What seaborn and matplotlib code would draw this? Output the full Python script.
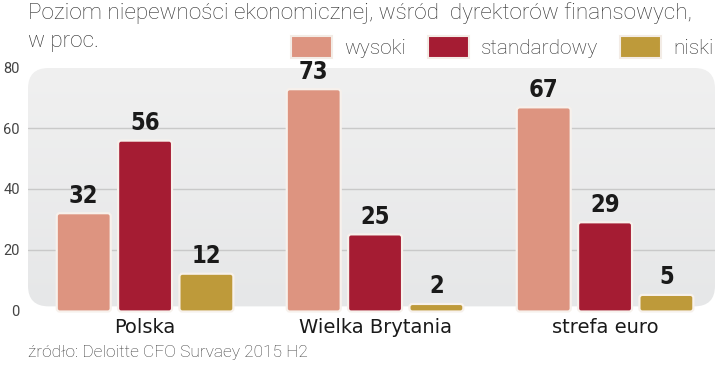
import numpy as np
import pandas as pd
import matplotlib
matplotlib.use("Agg")
import matplotlib.pyplot as plt
import seaborn as sns
from matplotlib.patches import FancyBboxPatch, Patch
from matplotlib.colors import LinearSegmentedColormap

# ---- data ----
kraje = ["Polska", "Wielka Brytania", "strefa euro"]
poziomy = ["wysoki", "standardowy", "niski"]
wysoki = [32, 73, 67]
standardowy = [56, 25, 29]
niski = [12, 2, 5]
kolory = ["#DD9480", "#A51C33", "#BE9A3A"]
yticks = [0, 20, 40, 60, 80]

rows = []
for k, a, b, c in zip(kraje, wysoki, standardowy, niski):
    rows += [(k, "wysoki", a), (k, "standardowy", b), (k, "niski", c)]
df = pd.DataFrame(rows, columns=["kraj", "poziom", "wartosc"])

sns.set_theme(style="white")
plt.rcParams["font.family"] = ["Roboto", "DejaVu Sans"]

fig = plt.figure(figsize=(7.2, 3.65), dpi=100)
ax = fig.add_axes([28/720, 55/365, 687/720, 242/365])
ax.set_facecolor("none")

sns.barplot(data=df, x="kraj", y="wartosc", hue="poziom", order=kraje,
            hue_order=poziomy, palette=kolory, width=0.8, gap=0.12,
            ax=ax, legend=False, saturation=1)

XL = (-0.509, 2.478)
YL = (0, 80)
ax.set_xlim(*XL)
ax.set_ylim(*YL)

# rounded gray background with soft gradient
bg = FancyBboxPatch((0, 0.015), 1, 0.985, boxstyle="round,pad=0,rounding_size=0.03",
                    transform=ax.transAxes, mutation_aspect=687/242,
                    facecolor="none", edgecolor="none", zorder=0)
ax.add_patch(bg)
grad = np.linspace(0, 1, 256).reshape(-1, 1)
cmap = LinearSegmentedColormap.from_list("g", ["#F0F0F0", "#E6E7E8"])
im = ax.imshow(grad, extent=[0, 1, 0, 1], origin="upper", transform=ax.transAxes,
               aspect="auto", cmap=cmap, zorder=0)
im.set_clip_path(bg)

for y in [20, 40, 60]:
    ax.axhline(y, color="#C9C9C9", lw=1.0, zorder=1)

# value labels + rounded bars
px_per_x = 687 / (XL[1] - XL[0])
px_per_y = 242 / (YL[1] - YL[0])
aspect = px_per_x / px_per_y
for cont in ax.containers:
    ax.bar_label(cont, padding=4, fontsize=17, fontweight="bold",
                 family="DejaVu Sans", fontstretch="condensed", color="#1a1a1a")
    for p in cont.patches:
        x, y0 = p.get_x(), p.get_y()
        w, h = p.get_width(), p.get_height()
        fc = p.get_facecolor()
        p.set_visible(False)
        r = 3.0 / px_per_x
        fb = FancyBboxPatch((x, y0 - 0.5), w, h + 0.5,
                            boxstyle=f"round,pad=0,rounding_size={r}",
                            mutation_aspect=aspect, facecolor=fc,
                            edgecolor="#F7F1EC", linewidth=1.6, zorder=3,
                            clip_on=False)
        ax.add_patch(fb)

for s in ax.spines.values():
    s.set_visible(False)
ax.set_xlabel("")
ax.set_ylabel("")
ax.set_yticks(yticks)
ax.set_yticklabels([str(v) for v in yticks])
ax.tick_params(axis="y", length=0, pad=6, labelsize=10.5, labelcolor="#444444")
ax.tick_params(axis="x", length=0, pad=6, labelsize=14, labelcolor="#1a1a1a")
for t in ax.get_xticklabels():
    t.set_family("DejaVu Sans")

# title
fig.text(28/720, 1 - 13/365, "Poziom niepewności ekonomicznej, wśród  dyrektorów finansowych,",
         fontsize=16.2, fontweight="light", color="#2e2e2e", va="center", ha="left")
fig.text(28/720, 1 - 42/365, "w proc.", fontsize=16.2, fontweight="light",
         color="#2e2e2e", va="center", ha="left")

# legend
handles = [Patch(facecolor=c, edgecolor="#F3ECE6", linewidth=1.5, label=l)
           for c, l in zip(kolory, poziomy)]
leg = fig.legend(handles=handles, loc="center right", bbox_to_anchor=(1.003, 1 - 47/365),
                 ncol=3, frameon=False, fontsize=15, handlelength=1.95, handleheight=1.3,
                 handletextpad=0.6, columnspacing=1.05, borderaxespad=0)
for t in leg.get_texts():
    t.set_fontweight("light")
    t.set_color("#2e2e2e")

# source
fig.text(28/720, 1 - 353/365, "źródło: Deloitte CFO Survaey 2015 H2", fontsize=12.5,
         fontweight="light", color="#3a3a3a", va="center", ha="left")

fig.savefig("out.png", dpi=100)
